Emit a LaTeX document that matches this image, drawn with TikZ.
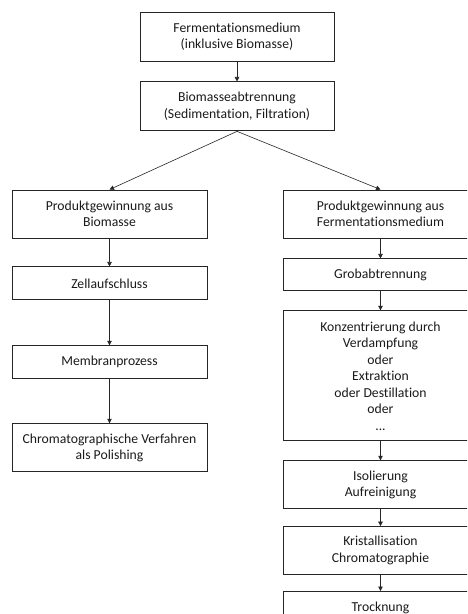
\documentclass[tikz,border=0pt]{standalone}
\usepackage{fontspec}
\setmainfont{Carlito}[Ligatures=NoCommon]
\usetikzlibrary{arrows.meta,positioning}
\definecolor{LineGray}{HTML}{262626}
\definecolor{TextGray}{HTML}{1A1A1A}
\tikzset{
  box/.style={draw=LineGray, line width=0.9pt, align=center, text=TextGray, minimum width=195pt, inner sep=3pt, font=\fontsize{13.7}{16.5}\selectfont},
  arrow/.style={-{Triangle[length=4.5pt,width=4.5pt]}, line width=0.6pt, draw=LineGray}
}
\begin{document}
\begin{tikzpicture}[x=1pt, y=1pt]
\useasboundingbox (0,0) rectangle (467,-614);
\clip (0,0) rectangle (467,-614);
\node[box, minimum width=194pt, minimum height=49pt] (ferm) at (237,-36.5) {Fermentationsmedium\\(inklusive Biomasse)};
\node[box, minimum width=194pt, minimum height=49pt, below=20pt of ferm] (biom) {Biomasseabtrennung\\(Sedimentation, Filtration)};
% linker Zweig
\node[box, minimum height=48pt] (prodbio) at (109.5,-214) {Produktgewinnung aus\\Biomasse};
\node[box, minimum height=33pt, below=28pt of prodbio] (zell) {Zellaufschluss};
\node[box, minimum height=33pt, below=45pt of zell] (membran) {Membranprozess};
\node[box, minimum height=48pt, below=44pt of membran] (chrom) {Chromatographische Verfahren\\als Polishing};
% rechter Zweig
\node[box, minimum height=48pt] (prodferm) at (380.5,-214) {Produktgewinnung aus\\Fermentationsmedium};
\node[box, minimum height=32pt, below=20pt of prodferm] (grob) {Grobabtrennung};
\node[box, minimum height=130pt, below=19pt of grob] (konz) {Konzentrierung durch\\Verdampfung\\oder\\Extraktion\\oder Destillation\\oder\\...};
\node[box, minimum height=48pt, below=19pt of konz] (isol) {Isolierung\\Aufreinigung};
\node[box, minimum height=48pt, below=17pt of isol] (krist) {Kristallisation\\Chromatographie};
\node[box, minimum height=33pt, below=16pt of krist] (trock) {Trocknung};
\draw[arrow] (ferm) -- (biom);
\draw[arrow] (biom.south) -- (prodbio.north);
\draw[arrow] (biom.south) -- (prodferm.north);
\draw[arrow] (prodbio) -- (zell);
\draw[arrow] (zell) -- (membran);
\draw[arrow] (membran) -- (chrom);
\draw[arrow] (prodferm) -- (grob);
\draw[arrow] (grob) -- (konz);
\draw[arrow] (konz) -- (isol);
\draw[arrow] (isol) -- (krist);
\draw[arrow] (krist) -- (trock);
\end{tikzpicture}
\end{document}
